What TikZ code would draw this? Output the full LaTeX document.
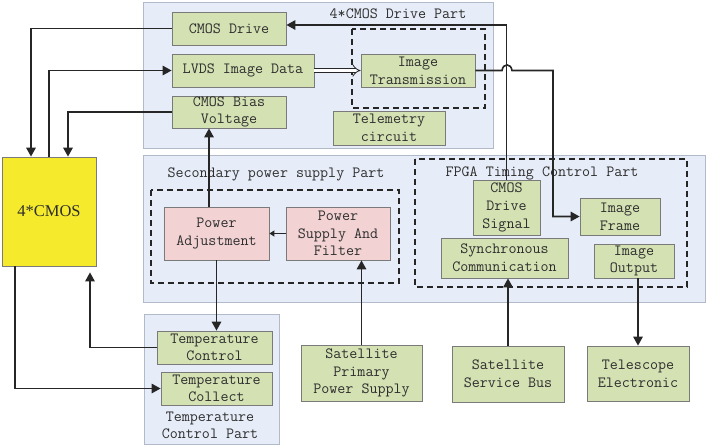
\documentclass[tikz,border=0pt]{standalone}
\usepackage{fontspec}
\newfontfamily\cmosfont{Liberation Serif}
\usetikzlibrary{arrows.meta,calc}
\definecolor{panel}{HTML}{E6EDF8}
\definecolor{panelborder}{HTML}{B2BACA}
\definecolor{boxgreen}{HTML}{D4E1B3}
\definecolor{boxpink}{HTML}{F2D2D2}
\definecolor{boxborder}{HTML}{7A7A7A}
\definecolor{cmosyellow}{HTML}{F5EA2B}
\definecolor{linec}{HTML}{262626}
\definecolor{textc}{HTML}{2E2E2E}
\tikzset{
  panelbox/.style={fill=panel, draw=panelborder, line width=0.8pt},
  gbox/.style={draw=boxborder, fill=boxgreen, line width=0.8pt, inner sep=0pt, align=center, text=textc},
  pbox/.style={gbox, fill=boxpink},
  dbox/.style={draw=linec, line width=1.2pt, dash pattern=on 6pt off 4pt},
  lbl/.style={text=textc, align=center, inner sep=0pt},
  arr/.style={draw=linec, line width=1.6pt, -{Triangle[length=9pt,width=9.5pt]}},
  sarr/.style={draw=linec, line width=1.2pt, -{Triangle[length=5pt,width=6pt]}},
}
\begin{document}
\begin{tikzpicture}[x=1pt,y=-1pt,font=\fontsize{15.6}{17.6}\selectfont\ttfamily]
\useasboundingbox (0,0) rectangle (706,445);
% panels
\draw[panelbox] (143,2) rectangle (493,148);
\draw[panelbox] (143,155) rectangle (705,302);
\draw[panelbox] (144,314) rectangle (279,444);
% dashed groups
\draw[dbox] (352,29) rectangle (485,108);
\draw[dbox] (151,190) rectangle (399,283);
\draw[dbox] (415,159) rectangle (687,287);
% titles
\node[lbl] (t1) at (398,14) {4*CMOS Drive Part};
\node[lbl] (t2) at (276,174) {Secondary power supply Part};
\node[lbl] (t3) at (542,173) {FPGA Timing Control Part};
\node[lbl] (t4) at (210,425.5) {Temperature\\Control Part};
% 4*CMOS
\node[draw=boxborder, fill=cmosyellow, line width=0.8pt, minimum width=94pt, minimum height=109pt, inner sep=0pt, font=\cmosfont\fontsize{16.5}{18}\selectfont, text=textc] (cmos) at (49,211.5) {4*CMOS};
% top panel nodes
\node[gbox, minimum width=114pt, minimum height=33pt] (cd) at (229,28.5) {CMOS Drive};
\node[gbox, minimum width=142pt, minimum height=33pt] (lvds) at (243,70.5) {LVDS Image Data};
\node[gbox, minimum width=114pt, minimum height=32pt] (bias) at (229,112) {CMOS Bias\\Voltage};
\node[gbox, minimum width=114pt, minimum height=33pt] (imt) at (418,70.5) {Image\\Transmission};
\node[gbox, minimum width=112pt, minimum height=34pt] (tel) at (389,128) {Telemetry\\circuit};
% middle panel nodes
\node[pbox, minimum width=105pt, minimum height=53pt] (pa) at (216.5,233.5) {Power\\Adjustment};
\node[pbox, minimum width=104pt, minimum height=53pt] (psf) at (338,233.5) {Power\\Supply And\\Filter};
\node[gbox, minimum width=67pt, minimum height=55pt] (cds) at (506.5,207.5) {CMOS\\Drive\\Signal};
\node[gbox, minimum width=80pt, minimum height=37pt] (imf) at (620,216.5) {Image\\Frame};
\node[gbox, minimum width=127pt, minimum height=40pt] (sync) at (504.5,258) {Synchronous\\Communication};
\node[gbox, minimum width=80pt, minimum height=34pt] (imo) at (634,261) {Image\\Output};
% temperature nodes
\node[gbox, minimum width=115pt, minimum height=33pt] (tc) at (214.5,347.5) {Temperature\\Control};
\node[gbox, minimum width=111pt, minimum height=33pt] (tcol) at (216.5,388.5) {Temperature\\Collect};
% bottom nodes
\node[gbox, minimum width=121pt, minimum height=56pt] (spps) at (361.5,373) {Satellite\\Primary\\Power Supply};
\node[gbox, minimum width=112pt, minimum height=56pt] (ssb) at (508,374) {Satellite\\Service Bus};
\node[gbox, minimum width=102pt, minimum height=55pt] (tele) at (638,373.5) {Telescope\\Electronic};
% connectors
\draw[arr] (cd.west) -| ($(cmos.north)+(-18,0)$);
\draw[arr] (cmos.north) |- (lvds.west);
\draw[arr] (bias.west) -| ($(cmos.north)+(19,0)$);
\draw[arr] (cds.north) |- ($(cd.east)+(0,-3.5)$);
\draw[arr] (imt.east) -- (502,70.5) .. controls (503,63) and (511,63) .. (512,70.5) -- (553,70.5) |- (imf.west);
\draw[draw=linec, line width=0.8pt, double=white, double distance=3.5pt, -{Implies[length=8pt]}] (lvds.east) -- (imt.west);
\coordinate (pup) at ($(pa.north)+(-7.5,0)$);
\draw[arr] (pup) -- (pup |- bias.south);
\draw[arr] (pa.south) -- (pa.south |- tc.north);
\draw[sarr] (psf.west) -- (pa.east);
\draw[arr] (spps.north) -- (spps.north |- psf.south);
\draw[arr] (ssb.north) -- (ssb.north |- sync.south);
\draw[arr] (imo.south -| tele.north) -- (tele.north);
\draw[arr] (tc.west) -| ($(cmos.south)+(41,6)$);
\draw[arr] ($(cmos.south)+(-34,0)$) |- (tcol.west);
\end{tikzpicture}
\end{document}
